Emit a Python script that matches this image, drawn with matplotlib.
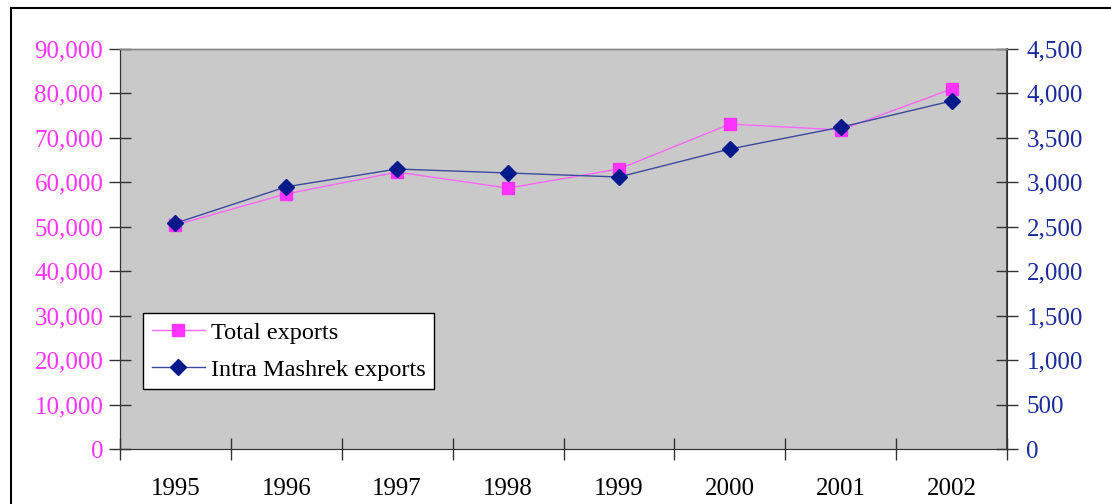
import matplotlib
matplotlib.use("Agg")
import matplotlib.pyplot as plt
from matplotlib.patches import Rectangle
from matplotlib.ticker import FuncFormatter, MultipleLocator

years = ["1995", "1996", "1997", "1998", "1999", "2000", "2001", "2002"]
total_exports = [50400, 57400, 62300, 58700, 63000, 73100, 71800, 81000]
intra_mashrek = [2540, 2950, 3150, 3105, 3060, 3375, 3620, 3915]

W, H = 1111, 504
fig = plt.figure(figsize=(W / 100, H / 100), dpi=100)
plt.rcParams['font.family'] = ['Liberation Serif', 'DejaVu Serif']

x0, x1, y0, y1 = 120, 1007, 49, 449
ax = fig.add_axes([x0 / W, 1 - y1 / H, (x1 - x0) / W, (y1 - y0) / H])
ax.set_facecolor('#C9C9C9')
ax2 = ax.twinx()

pink = '#FF33FF'
navy = '#001A8C'
xs = list(range(len(years)))
l1, = ax.plot(xs, total_exports, color='#FF66FF', lw=1, marker='s', ms=8,
              mfc=pink, mec=pink, label='Total exports', zorder=3)
l2, = ax2.plot(xs, intra_mashrek, color='#3A4AA0', lw=1, marker='D', ms=8,
               mfc=navy, mec=navy, label='Intra Mashrek exports', zorder=4)

ax.set_xlim(-0.5, len(years) - 0.5)
ax.set_ylim(0, 90000)
ax2.set_ylim(0, 4500)
ax.yaxis.set_major_locator(MultipleLocator(10000))
ax2.yaxis.set_major_locator(MultipleLocator(500))
fmt = FuncFormatter(lambda v, p: f"{int(v):,}")
ax.yaxis.set_major_formatter(fmt)
ax2.yaxis.set_major_formatter(fmt)

ax.set_xticks([i - 0.5 for i in range(len(years) + 1)])
ax.set_xticklabels([])
ax.set_xticks(xs, minor=True)
ax.set_xticklabels(years, minor=True)
ax.tick_params(axis='x', which='major', direction='inout', length=16, width=1, color='#333333')
ax.tick_params(axis='x', which='minor', length=0, labelsize=18, pad=21, labelcolor='black')
ax.tick_params(axis='y', direction='inout', length=16, width=1, color='#333333',
               labelsize=18, labelcolor=pink, pad=4)
ax2.tick_params(axis='y', direction='inout', length=16, width=1, color='#333333',
                labelsize=18, labelcolor='#1A2A9A', pad=6)

for a in (ax, ax2):
    a.spines['top'].set_color('#888888')
    a.spines['top'].set_linewidth(1)
    a.spines['left'].set_color('#333333')
    a.spines['right'].set_color('#333333')
    a.spines['bottom'].set_color('#333333')
ax2.spines['right'].set_linewidth(1.2)

leg = ax.legend(handles=[l1, l2], loc='upper left',
                bbox_to_anchor=((143 - x0) / (x1 - x0), 1 - (313 - y0) / (y1 - y0)),
                frameon=True, fancybox=False, fontsize=17.5, handlelength=2.2,
                handletextpad=0.25, borderpad=0.35, labelspacing=0.62, borderaxespad=0,
                facecolor='white', framealpha=1)
leg.get_frame().set_edgecolor('black')
leg.get_frame().set_linewidth(1)
ax.set_zorder(1)
ax2.set_zorder(2)
ax2.patch.set_visible(False)
leg.remove()
ax2.add_artist(leg)

fig.patches.append(Rectangle((11 / W, -0.1), 1.2, 1 - 8 / H + 0.1, transform=fig.transFigure,
                             fill=False, edgecolor='black', lw=1.5))

fig.savefig('out.png', dpi=100)
